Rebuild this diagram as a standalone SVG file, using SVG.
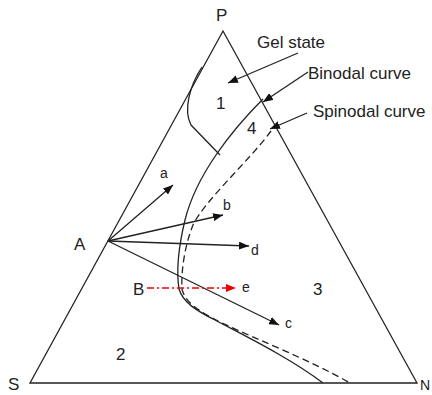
<svg xmlns="http://www.w3.org/2000/svg" width="432" height="395" viewBox="0 0 432 395">
<style>
.ln{fill:none;stroke:#222;stroke-width:1.3}
.t{font-family:"Liberation Sans",Arial,sans-serif;fill:#222}
.big{font-size:17px}
.sm{font-size:14px}
</style>
<defs>
<marker id="ah" viewBox="0 0 10 8" refX="10" refY="4" markerWidth="10" markerHeight="8" markerUnits="userSpaceOnUse" orient="auto"><path d="M0,0L10,4L0,8Z" fill="#111"/></marker>
<marker id="ahr" viewBox="0 0 10 8" refX="10" refY="4" markerWidth="10" markerHeight="8" markerUnits="userSpaceOnUse" orient="auto"><path d="M0,0L10,4L0,8Z" fill="#e00"/></marker>
</defs>
<rect width="432" height="395" fill="#fff"/>
<g id="triangle">
<path class="ln" d="M30,383L223,31L417,383Z"/>
</g>
<g id="curves">
<path id="gel" class="ln" d="M202,67C190,85 183,110 191,125L220,155"/>
<path id="binodal" class="ln" d="M263,99C232,130 196,175 185,220C179,245 176,270 179,289C183,302 195,310 215,320C245,336 290,358 323,383"/>
<path id="spinodal" class="ln" stroke-dasharray="7,4" d="M271,131C250,160 205,200 193,225C185,245 181,270 182,289C185,302 198,311 222,323C258,340 310,360 350,383"/>
</g>
<g id="connectors">
<line class="ln" x1="108" y1="241" x2="173" y2="185" marker-end="url(#ah)"/>
<line class="ln" x1="108" y1="241" x2="223" y2="215" marker-end="url(#ah)"/>
<line class="ln" x1="108" y1="241" x2="249" y2="246" marker-end="url(#ah)"/>
<line class="ln" x1="108" y1="241" x2="279" y2="325" marker-end="url(#ah)"/>
<line x1="147" y1="288" x2="236" y2="288" stroke="#e00" stroke-width="1.3" stroke-dasharray="7,3,2,3" marker-end="url(#ahr)"/>
<line class="ln" x1="298" y1="53" x2="228" y2="83" marker-end="url(#ah)"/>
<line class="ln" x1="308" y1="72" x2="263" y2="102" marker-end="url(#ah)"/>
<line class="ln" x1="307" y1="113" x2="270" y2="129" marker-end="url(#ah)"/>
</g>
<g id="labels">
<text class="t big" x="216" y="21">P</text>
<text class="t big" x="8" y="390">S</text>
<text class="t" font-size="14" x="420" y="390">N</text>
<text class="t big" x="257" y="48">Gel state</text>
<text class="t big" x="308" y="79">Binodal curve</text>
<text class="t big" x="313" y="117">Spinodal curve</text>
<text class="t big" x="216" y="109">1</text>
<text class="t big" x="247" y="134">4</text>
<text class="t big" x="313" y="295">3</text>
<text class="t big" x="116" y="360">2</text>
<text class="t big" x="74" y="250">A</text>
<text class="t big" x="133" y="295">B</text>
<text class="t sm" x="160" y="178">a</text>
<text class="t sm" x="223" y="210">b</text>
<text class="t sm" x="251" y="255">d</text>
<text class="t sm" x="242" y="292">e</text>
<text class="t sm" x="285" y="328">c</text>
</g>
</svg>
